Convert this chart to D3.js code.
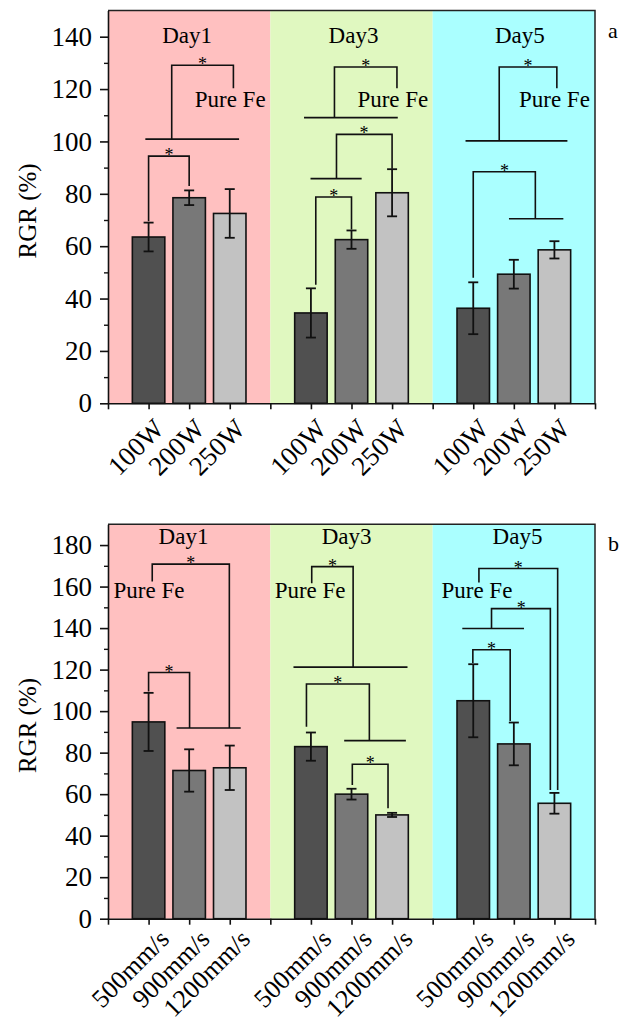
<!DOCTYPE html>
<html>
<head>
<meta charset="utf-8">
<script src="https://cdn.jsdelivr.net/npm/d3@7/dist/d3.min.js"></script>
<style>
  body { margin: 0; background: #fff; }
  svg { display: block; }
  svg text { font-family: 'Liberation Serif', 'Times New Roman', 'DejaVu Serif', serif !important; }
</style>
</head>
<body>
<div id="chart"></div>
<script>
// ---- data ----
const days = ["Day1", "Day3", "Day5"];

// panel a : laser power
const powerLabels = ["100W", "200W", "250W"];
const powerMeans  = [[63.5, 78.5, 72.5], [34.5, 62.5, 80.4], [36.3, 49.3, 58.6]];
const powerErrors = [[5.5, 2.8, 9.3],    [9.4, 3.5, 9.0],    [9.9, 5.5, 3.3]];
const powerTicks  = [0, 20, 40, 60, 80, 100, 120, 140];

// panel b : scanning speed
const speedLabels = ["500mm/s", "900mm/s", "1200mm/s"];
const speedMeans  = [[94.8, 71.4, 72.7], [82.9, 60.0, 50.0], [105.0, 84.2, 55.6]];
const speedErrors = [[14.0, 10.2, 10.7], [6.8, 2.6, 1.0],    [17.6, 10.3, 5.0]];
const speedTicks  = [0, 20, 40, 60, 80, 100, 120, 140, 160, 180];

// significance brackets, in (slot, RGR) units
const powerBrackets = [
  {pts: [[1.0, 69.5], [1.0, 94.4], [2.0, 94.4], [2.0, 83]], star: [1.5, 94.4]},
  {pts: [[0.92, 100.9], [3.23, 100.9]]},
  {pts: [[1.57, 100.9], [1.57, 129.1], [3.09, 129.1], [3.09, 120.3]], star: [2.33, 129.1]},
  {pts: [[4.83, 109.1], [7.14, 109.1]]},
  {pts: [[5.58, 109.1], [5.58, 128.4], [7.12, 128.4], [7.12, 120.3]], star: [6.35, 128.4]},
  {pts: [[4.99, 85.8], [6.25, 85.8]]},
  {pts: [[5.63, 85.8], [5.63, 102.7], [7.0, 102.7], [7.0, 89.6]], star: [6.31, 102.7]},
  {pts: [[5.12, 45.3], [5.12, 78.8], [6.0, 78.8], [6.0, 66.4]], star: [5.56, 78.8]},
  {pts: [[8.81, 100.2], [11.32, 100.2]]},
  {pts: [[9.64, 100.2], [9.64, 128.4], [11.06, 128.4], [11.06, 120.3]], star: [10.35, 128.4]},
  {pts: [[9.88, 70.5], [11.22, 70.5]]},
  {pts: [[9.0, 47.9], [9.0, 88.4], [10.53, 88.4], [10.53, 70.5]], star: [9.77, 88.4]}
];
const powerPureFe = [[3.01, 113], [7.02, 113], [11.0, 113]];
const powerDayPos = [[1.95, 137.6], [6.05, 137.6], [10.15, 137.6]];

const speedBrackets = [
  {pts: [[1.09, 162.4], [1.09, 170.8], [2.99, 170.8], [2.99, 91.9]], star: [2.04, 170.8]},
  {pts: [[1.69, 91.9], [3.27, 91.9]]},
  {pts: [[1.0, 109.5], [1.0, 118.6], [2.01, 118.6], [2.01, 91.9]], star: [1.5, 118.6]},
  {pts: [[5.02, 161.6], [5.02, 169.6], [6.04, 169.6], [6.04, 121.2]], star: [5.53, 169.6]},
  {pts: [[4.57, 121.2], [7.38, 121.2]]},
  {pts: [[4.89, 92.5], [4.89, 113.1], [6.44, 113.1], [6.44, 85.8]], star: [5.66, 113.1]},
  {pts: [[5.82, 85.8], [7.34, 85.8]]},
  {pts: [[6.02, 64.4], [6.02, 74.4], [6.9, 74.4], [6.9, 53.2]], star: [6.46, 74.4]},
  {pts: [[9.14, 162], [9.14, 168.7], [11.08, 168.7], [11.08, 62]], star: [10.11, 168.7]},
  {pts: [[8.73, 139.8], [10.25, 139.8]]},
  {pts: [[9.45, 139.8], [9.45, 149.4], [10.9, 149.4], [10.9, 62]], star: [10.18, 149.4]},
  {pts: [[8.99, 123.2], [8.99, 129.6], [9.91, 129.6], [9.91, 95.2]], star: [9.45, 129.6]}
];
const speedPureFe = [[1.01, 154.5], [4.98, 154.5], [9.09, 154.5]];
const speedDayPos = [[1.86, 180.5], [5.88, 180.5], [10.09, 180.5]];

const bgColors  = ["#ffc0c0", "#e0f8c0", "#aaffff"];
const barColors = ["#505050", "#787878", "#c2c2c2"];

const svg = d3.select("#chart").append("svg")
  .attr("width", 629)
  .attr("height", 1026);

function drawPanel(p) {
  const x = d3.scaleLinear().domain([0, 12]).range([108, 595]);
  const y = d3.scaleLinear().domain([0, p.yMax]).range([p.bottom, p.top]);
  const g = svg.append("g");

  // day backgrounds
  g.selectAll("rect.bg")
    .data(days)
    .join("rect")
    .attr("class", "bg")
    .attr("x", (d, i) => x(i * 4))
    .attr("y", p.top)
    .attr("width", x(4) - x(0))
    .attr("height", p.bottom - p.top)
    .attr("fill", (d, i) => bgColors[i]);

  // bars
  const rows = [];
  p.means.forEach((m, gi) => m.forEach((v, i) => {
    rows.push({slot: gi * 4 + i + 1, value: v, err: p.errors[gi][i], k: i});
  }));

  g.selectAll("rect.bar")
    .data(rows)
    .join("rect")
    .attr("class", "bar")
    .attr("x", d => x(d.slot - 0.4))
    .attr("y", d => y(d.value))
    .attr("width", x(0.8) - x(0))
    .attr("height", d => y(0) - y(d.value))
    .attr("fill", d => barColors[d.k])
    .attr("stroke", "#111")
    .attr("stroke-width", 1.6);

  // error bars
  const eb = g.selectAll("g.err").data(rows).join("g").attr("class", "err")
    .attr("stroke", "#111").attr("stroke-width", 1.8);
  eb.append("line")
    .attr("x1", d => x(d.slot)).attr("x2", d => x(d.slot))
    .attr("y1", d => y(d.value - d.err)).attr("y2", d => y(d.value + d.err));
  eb.append("line")
    .attr("x1", d => x(d.slot) - 5).attr("x2", d => x(d.slot) + 5)
    .attr("y1", d => y(d.value + d.err)).attr("y2", d => y(d.value + d.err));
  eb.append("line")
    .attr("x1", d => x(d.slot) - 5).attr("x2", d => x(d.slot) + 5)
    .attr("y1", d => y(d.value - d.err)).attr("y2", d => y(d.value - d.err));

  // brackets
  const line = d3.line().x(d => x(d[0])).y(d => y(d[1]));
  g.selectAll("path.br")
    .data(p.brackets)
    .join("path")
    .attr("class", "br")
    .attr("d", d => line(d.pts))
    .attr("fill", "none")
    .attr("stroke", "#111")
    .attr("stroke-width", 1.6);

  g.selectAll("text.star")
    .data(p.brackets.filter(d => d.star))
    .join("text")
    .attr("class", "star")
    .attr("x", d => x(d.star[0]))
    .attr("y", d => y(d.star[1]) + 5)
    .attr("text-anchor", "middle")
    .style("font-size", "18px")
    .text("*");

  g.selectAll("text.pure")
    .data(p.pureFe)
    .join("text")
    .attr("class", "pure")
    .attr("x", d => x(d[0]))
    .attr("y", d => y(d[1]))
    .attr("text-anchor", "middle")
    .style("font-size", "23px")
    .text("Pure Fe");

  g.selectAll("text.day")
    .data(days)
    .join("text")
    .attr("class", "day")
    .attr("x", (d, i) => x(p.dayPos[i][0]))
    .attr("y", (d, i) => y(p.dayPos[i][1]))
    .attr("text-anchor", "middle")
    .style("font-size", "23px")
    .text(d => d);

  // frame (top and right)
  g.append("path")
    .attr("d", `M${x(0)},${p.top}H${x(12)}V${p.bottom}`)
    .attr("fill", "none")
    .attr("stroke", "#222")
    .attr("stroke-width", 1.5);

  // y axis
  const yAxis = d3.axisLeft(y).tickValues(p.yTicks).tickSize(8).tickPadding(8).tickSizeOuter(0);
  const ya = g.append("g").attr("transform", `translate(${x(0)},0)`).call(yAxis);
  ya.selectAll("text").style("font-size", "27px").attr("fill", "#000");
  ya.selectAll("line,path").attr("stroke", "#111").attr("stroke-width", 1.6);

  const minor = d3.range(10, p.yMax, 20);
  const ym = g.append("g").attr("transform", `translate(${x(0)},0)`)
    .call(d3.axisLeft(y).tickValues(minor).tickSize(4).tickFormat(""));
  ym.select(".domain").remove();
  ym.selectAll("line").attr("stroke", "#111").attr("stroke-width", 1.4);

  // x axis
  const xAxis = d3.axisBottom(x).tickValues(d3.range(0, 13)).tickSize(6).tickSizeOuter(0).tickFormat("");
  const xa = g.append("g").attr("transform", `translate(0,${p.bottom})`).call(xAxis);
  xa.selectAll("line,path").attr("stroke", "#111").attr("stroke-width", 1.6);

  g.selectAll("text.xl")
    .data(rows)
    .join("text")
    .attr("class", "xl")
    .attr("transform", d => `translate(${x(d.slot) + p.labelDx},${p.bottom + p.labelDy}) rotate(-45)`)
    .attr("text-anchor", "end")
    .style("font-size", p.labelSize + "px")
    .text(d => p.labels[d.k]);

  // y title
  g.append("text")
    .attr("transform", `translate(36,${(p.top + p.bottom) / 2 + 4}) rotate(-90)`)
    .attr("text-anchor", "middle")
    .style("font-size", "25px")
    .text("RGR (%)");

  // panel letter
  g.append("text")
    .attr("x", 608)
    .attr("y", p.letterY)
    .style("font-size", "22px")
    .text(p.letter);
}

drawPanel({
  top: 10.5, bottom: 403.3, yMax: 150, yTicks: powerTicks,
  labels: powerLabels, means: powerMeans, errors: powerErrors,
  brackets: powerBrackets, pureFe: powerPureFe, dayPos: powerDayPos,
  labelDx: 17, labelDy: 27, labelSize: 27,
  letter: "a", letterY: 38
});

drawPanel({
  top: 524.3, bottom: 918.7, yMax: 190, yTicks: speedTicks,
  labels: speedLabels, means: speedMeans, errors: speedErrors,
  brackets: speedBrackets, pureFe: speedPureFe, dayPos: speedDayPos,
  labelDx: 22, labelDy: 22, labelSize: 26,
  letter: "b", letterY: 551
});
</script>
</body>
</html>
